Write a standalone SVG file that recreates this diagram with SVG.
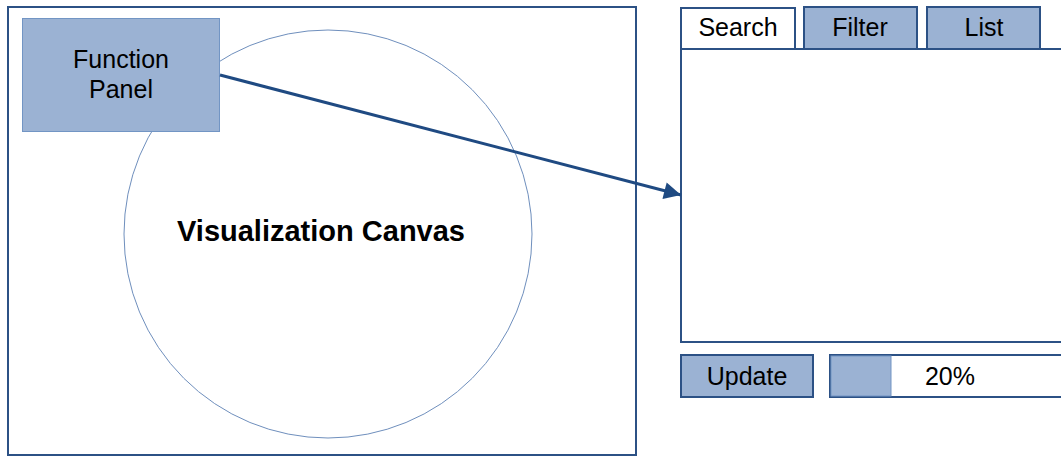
<svg xmlns="http://www.w3.org/2000/svg" width="1061" height="457" viewBox="0 0 1061 457">
<style>
.frame{fill:#fff;stroke:#2c5185;stroke-width:2}
.btn{fill:#9bb2d3;stroke:#2c5185;stroke-width:2}
.t{font-family:"Liberation Sans",Arial,sans-serif;font-size:25px;fill:#000;text-anchor:middle}
.b{font-family:"Liberation Sans",Arial,sans-serif;font-size:29px;font-weight:bold;fill:#000;text-anchor:middle}
</style>
<defs>
<marker id="ah" viewBox="0 0 10 10" refX="10" refY="5" markerWidth="24" markerHeight="17" markerUnits="userSpaceOnUse" orient="auto">
<path d="M0,0 L10,5 L0,10 z" fill="#1f4a82"/>
</marker>
</defs>
<g id="canvas">
<rect class="frame" x="8" y="7" width="628" height="448"/>
<circle cx="328" cy="234" r="204" fill="none" stroke="#6f8fbd" stroke-width="1"/>
<text class="b" x="321" y="241">Visualization Canvas</text>
</g>
<g id="function-panel">
<rect x="22.5" y="18.5" width="197" height="113" fill="#9bb2d3" stroke="#7295c4" stroke-width="1"/>
<text class="t" x="121" y="68">Function</text>
<text class="t" x="121" y="98">Panel</text>
</g>
<g id="tab-search">
<rect class="frame" x="681" y="8" width="114" height="41"/>
<text class="t" x="738" y="36">Search</text>
</g>
<g id="tab-filter">
<rect class="btn" x="804" y="7" width="113" height="42"/>
<text class="t" x="860" y="36">Filter</text>
</g>
<g id="tab-list">
<rect class="btn" x="927" y="7" width="113" height="42"/>
<text class="t" x="984" y="36">List</text>
</g>
<g id="list-panel">
<rect class="frame" x="681" y="49" width="400" height="293"/>
</g>
<g id="update">
<rect class="btn" x="681" y="355" width="132" height="42"/>
<text class="t" x="747" y="385">Update</text>
</g>
<g id="progress">
<rect class="frame" x="830" y="355" width="260" height="42"/>
<rect x="831" y="356" width="60" height="40" fill="#9bb2d3" stroke="#7295c4" stroke-width="1"/>
<text class="t" x="950" y="385">20%</text>
</g>
<g id="connectors">
<line x1="220" y1="75" x2="681" y2="195" stroke="#1f4a82" stroke-width="3" marker-end="url(#ah)"/>
</g>
</svg>
